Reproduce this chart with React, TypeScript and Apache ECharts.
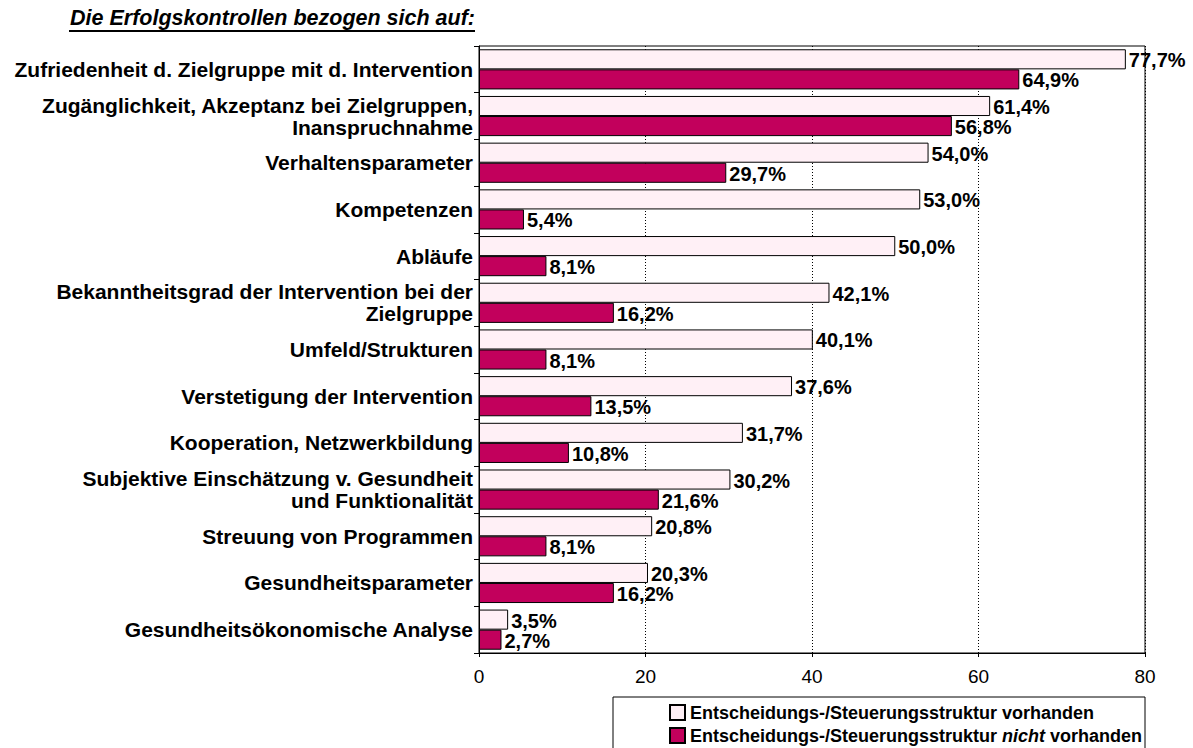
import React, { useEffect, useRef } from "react";
import * as echarts from "echarts";

const categories = [
  "Zufriedenheit d. Zielgruppe mit d. Intervention",
  "Zugänglichkeit, Akzeptanz bei Zielgruppen,\nInanspruchnahme",
  "Verhaltensparameter",
  "Kompetenzen",
  "Abläufe",
  "Bekanntheitsgrad der Intervention bei der\nZielgruppe",
  "Umfeld/Strukturen",
  "Verstetigung der Intervention",
  "Kooperation, Netzwerkbildung",
  "Subjektive Einschätzung v. Gesundheit\nund Funktionalität",
  "Streuung von Programmen",
  "Gesundheitsparameter",
  "Gesundheitsökonomische Analyse",
];
const vorhanden = [77.7, 61.4, 54.0, 53.0, 50.0, 42.1, 40.1, 37.6, 31.7, 30.2, 20.8, 20.3, 3.5];
const nichtVorhanden = [64.9, 56.8, 29.7, 5.4, 8.1, 16.2, 8.1, 13.5, 10.8, 21.6, 8.1, 16.2, 2.7];
const xTicks = [0, 20, 40, 60, 80];
const seriesNames = [
  "Entscheidungs-/Steuerungsstruktur vorhanden",
  "Entscheidungs-/Steuerungsstruktur nicht vorhanden",
];
const title = "Die Erfolgskontrollen bezogen sich auf:";

const FONT = "'Liberation Sans', Arial, sans-serif";

export default function App() {
  const ref = useRef<HTMLDivElement>(null);
  useEffect(() => {
    document.body.style.margin = "0";
    const chart = echarts.init(ref.current!, undefined, { renderer: "svg" });
    const labelCfg = {
      show: true,
      position: "right",
      distance: 3,
      offset: [0, 1],
      color: "#000",
      fontFamily: FONT,
      fontWeight: "bold",
      fontSize: 20,
      formatter: (p: any) => p.value.toFixed(1).replace(".", ",") + "%",
    };
    chart.setOption({
      animation: false,
      textStyle: { fontFamily: FONT },
      grid: { left: 479, right: 48, top: 46, bottom: 95, show: true, borderColor: "#000", borderWidth: 1, backgroundColor: "transparent" },
      xAxis: {
        type: "value",
        min: xTicks[0],
        max: xTicks[xTicks.length - 1],
        interval: xTicks[1] - xTicks[0],
        axisLine: { show: true, lineStyle: { color: "#000", width: 1 } },
        axisTick: { show: true, length: 4, lineStyle: { color: "#000" } },
        axisLabel: { color: "#000", fontSize: 19, fontFamily: FONT, margin: 14 },
        splitLine: { show: true, lineStyle: { color: "#000", type: [1, 2], width: 1 } },
      },
      yAxis: {
        type: "category",
        inverse: true,
        data: categories,
        axisLine: { show: true, lineStyle: { color: "#000", width: 1 } },
        axisTick: { show: true, length: 5, lineStyle: { color: "#000" } },
        axisLabel: {
          color: "#000",
          fontSize: 21,
          fontWeight: "bold",
          fontFamily: FONT,
          margin: 6,
          lineHeight: 22,
          align: "right",
        },
        splitLine: { show: false },
      },
      legend: {
        orient: "vertical",
        left: 664,
        top: 698,
        height: 60,
        icon: "rect",
        itemWidth: 15,
        itemHeight: 15,
        itemGap: 4,
        selectedMode: false,
        textStyle: {
          color: "#000",
          fontSize: 18,
          lineHeight: 19,
          fontWeight: "bold",
          fontFamily: FONT,
          rich: { i: { fontStyle: "italic", fontWeight: "bold", fontSize: 18, lineHeight: 19, fontFamily: FONT, color: "#000" } },
        },
        formatter: (name: string) => name.replace(" nicht ", " {i|nicht} "),
      },
      graphic: [
        {
          type: "text",
          right: 1193 - 475,
          top: 7,
          style: { text: title, fontSize: 21.5, fontWeight: "bold", fontStyle: "italic", fontFamily: FONT, fill: "#000" },
        },
        {
          type: "line",
          shape: { x1: 69, y1: 31, x2: 475, y2: 31 },
          style: { stroke: "#000", lineWidth: 2 },
        },
        {
          type: "rect",
          shape: { x: 613, y: 697, width: 532, height: 70 },
          style: { fill: "transparent", stroke: "#000", lineWidth: 1 },
          z: -1,
        },
      ],
      series: [
        {
          name: seriesNames[0],
          type: "bar",
          data: vorhanden,
          barGap: "0%",
          barCategoryGap: "14%",
          itemStyle: { color: "#FFF0F6", borderColor: "#000", borderWidth: 1 },
          label: labelCfg,
        },
        {
          name: seriesNames[1],
          type: "bar",
          data: nichtVorhanden,
          barGap: "0%",
          barCategoryGap: "14%",
          itemStyle: { color: "#C2005C", borderColor: "#000", borderWidth: 1 },
          label: labelCfg,
        },
      ],
    });
    return () => chart.dispose();
  }, []);
  return <div ref={ref} style={{ width: 1193, height: 748 }} />;
}
